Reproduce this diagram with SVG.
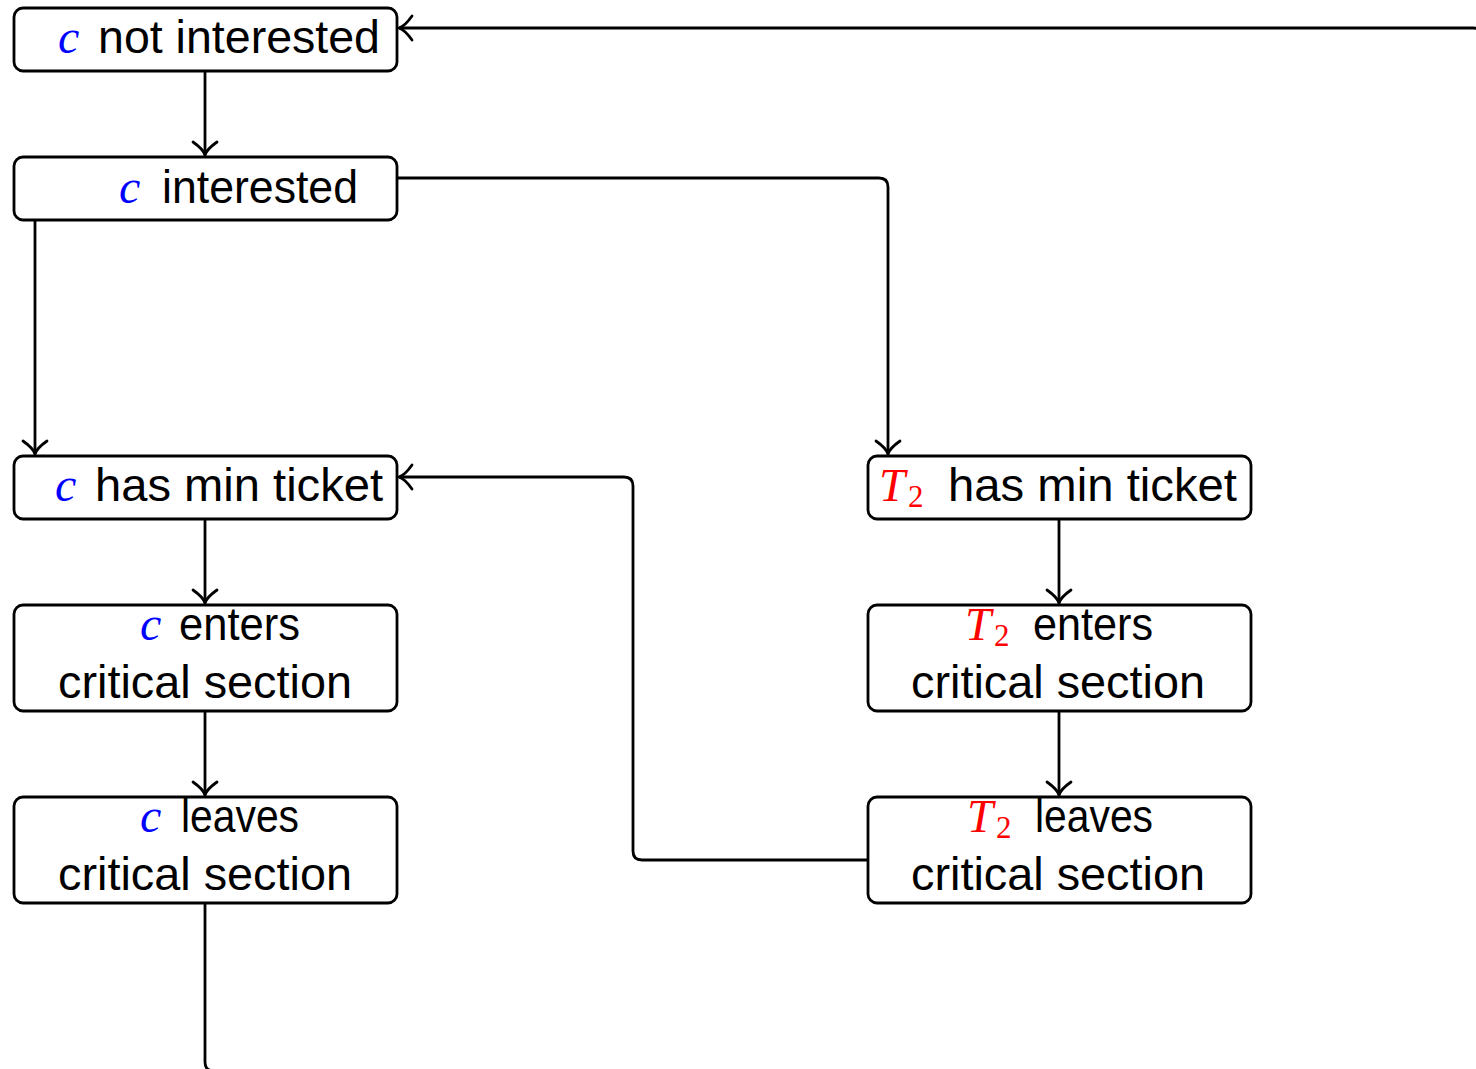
<svg xmlns="http://www.w3.org/2000/svg" width="1476" height="1069" viewBox="0 0 1476 1069">
  <style>
    .box { fill: #ffffff; stroke: #000000; stroke-width: 2.8; }
    .lbl { font-family: "Liberation Sans", "DejaVu Sans", sans-serif; font-size: 46px; fill: #000000; }
    .mc { font-family: "Liberation Serif", "DejaVu Serif", serif; font-style: italic; font-size: 48px; fill: #0000ff; }
    .mt { font-family: "Liberation Serif", "DejaVu Serif", serif; font-style: italic; font-size: 47px; fill: #ff0000; }
    .sub { font-family: "Liberation Serif", "DejaVu Serif", serif; font-size: 31px; fill: #ff0000; }
    .edge { fill: none; stroke: #000000; stroke-width: 2.8; marker-end: url(#to); }
  </style>
  <defs>
    <marker id="to" markerUnits="userSpaceOnUse" markerWidth="30" markerHeight="30" viewBox="-15 -15 30 30" refX="0" refY="0" orient="auto" overflow="visible">
      <path d="M -13 -12 Q -6 -2 0 0 Q -6 2 -13 12" fill="none" stroke="#000000" stroke-width="2.8" stroke-linecap="round"/>
    </marker>
  </defs>

  <rect width="1476" height="1069" fill="#ffffff"/>

  <!-- connectors -->
  <g id="connectors">
    <path class="edge" d="M 205 71 V 155"/>
    <path class="edge" d="M 35 220 V 454"/>
    <path class="edge" d="M 397 178 H 879 Q 888 178 888 187 V 454"/>
    <path class="edge" d="M 205 519 V 603"/>
    <path class="edge" d="M 205 711 V 795"/>
    <path class="edge" d="M 1059 519 V 603"/>
    <path class="edge" d="M 1059 711 V 795"/>
    <path class="edge" d="M 867 860 H 642 Q 633 860 633 851 V 486 Q 633 477 624 477 H 399"/>
    <path class="edge" d="M 205 903 V 1062 Q 205 1071 214 1071 H 1473 Q 1482 1071 1482 1062 V 37 Q 1482 28 1473 28 H 399"/>
  </g>

  <!-- left column -->
  <g id="c-not-interested">
    <rect class="box" x="14" y="8" width="383" height="63" rx="9"/>
    <text class="mc" x="58" y="53">c</text>
    <text class="lbl" x="98" y="53" textLength="282" lengthAdjust="spacingAndGlyphs">not interested</text>
  </g>
  <g id="c-interested">
    <rect class="box" x="14" y="157" width="383" height="63" rx="9"/>
    <text class="mc" x="119" y="203">c</text>
    <text class="lbl" x="162" y="203" textLength="196" lengthAdjust="spacingAndGlyphs">interested</text>
  </g>
  <g id="c-has-min-ticket">
    <rect class="box" x="14" y="456" width="383" height="63" rx="9"/>
    <text class="mc" x="55" y="501">c</text>
    <text class="lbl" x="95" y="501" textLength="288" lengthAdjust="spacingAndGlyphs">has min ticket</text>
  </g>
  <g id="c-enters">
    <rect class="box" x="14" y="605" width="383" height="106" rx="9"/>
    <text class="mc" x="140" y="640">c</text>
    <text class="lbl" x="179" y="640" textLength="121" lengthAdjust="spacingAndGlyphs">enters</text>
    <text class="lbl" x="58" y="698" textLength="294" lengthAdjust="spacingAndGlyphs">critical section</text>
  </g>
  <g id="c-leaves">
    <rect class="box" x="14" y="797" width="383" height="106" rx="9"/>
    <text class="mc" x="140" y="832">c</text>
    <text class="lbl" x="181" y="832" textLength="118" lengthAdjust="spacingAndGlyphs">leaves</text>
    <text class="lbl" x="58" y="890" textLength="294" lengthAdjust="spacingAndGlyphs">critical section</text>
  </g>

  <!-- right column -->
  <g id="t2-has-min-ticket">
    <rect class="box" x="868" y="456" width="383" height="63" rx="9"/>
    <text class="mt" x="879" y="501">T</text>
    <text class="sub" x="908" y="507">2</text>
    <text class="lbl" x="948" y="501" textLength="289" lengthAdjust="spacingAndGlyphs">has min ticket</text>
  </g>
  <g id="t2-enters">
    <rect class="box" x="868" y="605" width="383" height="106" rx="9"/>
    <text class="mt" x="965" y="640">T</text>
    <text class="sub" x="994" y="646">2</text>
    <text class="lbl" x="1033" y="640" textLength="120" lengthAdjust="spacingAndGlyphs">enters</text>
    <text class="lbl" x="911" y="698" textLength="294" lengthAdjust="spacingAndGlyphs">critical section</text>
  </g>
  <g id="t2-leaves">
    <rect class="box" x="868" y="797" width="383" height="106" rx="9"/>
    <text class="mt" x="967" y="832">T</text>
    <text class="sub" x="996" y="838">2</text>
    <text class="lbl" x="1035" y="832" textLength="118" lengthAdjust="spacingAndGlyphs">leaves</text>
    <text class="lbl" x="911" y="890" textLength="294" lengthAdjust="spacingAndGlyphs">critical section</text>
  </g>
</svg>
